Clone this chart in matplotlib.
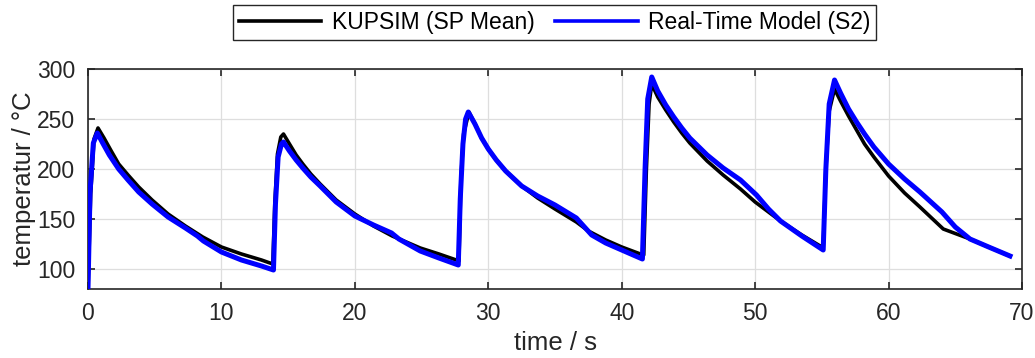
import matplotlib
matplotlib.use("Agg")
import matplotlib.pyplot as plt
from matplotlib.lines import Line2D

# KUPSIM (SP Mean) - black
t_kupsim = [0.0, 0.2, 0.45, 0.75, 1.2, 1.7, 2.3, 3.0, 3.8, 4.8, 6.0, 7.3, 8.6, 10.0, 11.5, 13.0, 13.85,
            14.0, 14.2, 14.45, 14.65, 15.1, 15.6, 16.1, 16.7, 17.4, 18.6, 20.0, 21.4, 22.8, 24.9, 26.3, 27.6, 27.8,
            27.95, 28.15, 28.55, 29.0, 29.5, 30.0, 30.6, 31.3, 32.5, 33.7, 35.0, 36.6, 37.5, 38.8, 40.0, 41.4, 41.65,
            41.85, 42.05, 42.25, 42.7, 43.3, 43.9, 44.5, 45.1, 46.4, 47.6, 48.9, 50.0, 51.9, 53.5, 55.0, 55.1,
            55.3, 55.55, 55.95, 56.4, 57.0, 57.6, 58.2, 58.9, 60.0, 61.2, 62.35, 64.1, 66.1, 67.5, 69.1]
y_kupsim = [80, 175, 230, 241, 231, 219, 205, 194, 182, 169, 155, 143, 132, 122, 115, 109, 105,
            165, 215, 232, 235, 225, 214, 205, 195, 185, 169, 155, 143, 133, 121, 115, 109, 108,
            190, 235, 257, 245, 231, 220, 209, 198, 183, 171, 160, 147, 138, 129, 122, 115, 114,
            200, 265, 285, 272, 259, 247, 236, 226, 208, 194, 180, 167, 148, 134, 122, 121,
            200, 258, 280, 268, 253, 239, 225, 212, 193, 176, 162, 140, 130, 122, 113]

# Real-Time Model (S2) - blue
t_rtm = [0.0, 0.15, 0.4, 0.7, 1.1, 1.6, 2.3, 3.0, 3.8, 4.8, 6.0, 7.3, 8.2, 8.65, 10.0, 11.5, 13.0, 13.9,
         14.05, 14.25, 14.5, 14.65, 15.1, 15.6, 16.1, 16.7, 17.4, 18.6, 20.0, 21.4, 22.75, 23.3, 24.9, 26.3, 27.75,
         27.9, 28.1, 28.3, 28.5, 29.0, 29.5, 30.0, 30.6, 31.3, 32.5, 33.7, 35.0, 36.6, 37.75, 38.8, 40.0, 41.55,
         41.75, 41.95, 42.25, 42.7, 43.3, 43.9, 44.5, 45.1, 46.4, 47.6, 48.9, 50.1, 51.0, 51.9, 53.5, 55.1,
         55.3, 55.55, 55.95, 56.4, 57.0, 57.6, 58.2, 58.9, 60.0, 61.2, 62.35, 64.0, 65.0, 66.1, 67.5, 69.1]
y_rtm = [80, 176, 226, 236, 226, 214, 200, 189, 177, 165, 152, 141, 133, 128, 117, 109, 103, 99,
         165, 212, 225, 227, 218, 209, 201, 192, 183, 167, 153, 144, 136, 130, 118, 111, 104,
         170, 225, 250, 257, 245, 231, 220, 209, 198, 183, 173, 164, 151, 134, 126, 119, 110,
         200, 270, 292, 278, 264, 252, 241, 231, 214, 201, 189, 174, 160, 148, 133, 119,
         200, 265, 289, 276, 260, 247, 235, 222, 205, 190, 177, 157, 142, 130, 122, 113]

x_ticks = [0, 10, 20, 30, 40, 50, 60, 70]
y_ticks = [100, 150, 200, 250, 300]
labels = ["KUPSIM (SP Mean)", "Real-Time Model (S2)"]

plt.rcParams['font.family'] = ['Liberation Sans', 'DejaVu Sans']
fig = plt.figure(figsize=(10.35, 3.58), dpi=100)
ax = fig.add_axes([88/1035, (358-289)/358, (1022-88)/1035, (289-69)/358])

ax.plot(t_kupsim, y_kupsim, color='black', lw=2.6, solid_joinstyle='round', zorder=3)
ax.plot(t_rtm, y_rtm, color='#0000ff', lw=3.6, solid_joinstyle='round', zorder=4)

ax.set_xlim(0, 70)
ax.set_ylim(80, 300)
ax.set_xticks(x_ticks)
ax.set_yticks(y_ticks)
ax.grid(True, color='#dedede', lw=0.9)
ax.set_axisbelow(True)
axc = '#262626'
for s in ax.spines.values():
    s.set_color(axc)
    s.set_linewidth(1.2)
ax.tick_params(direction='in', length=5, width=1.2, colors=axc, labelsize=16.5,
               top=True, right=True, pad=9)
for lab in ax.get_xticklabels() + ax.get_yticklabels():
    lab.set_color('#262626')
ax.set_xlabel('time / s', fontsize=18.5, color='#262626', labelpad=5)
ax.set_ylabel('temperatur / °C', fontsize=18.5, color='#262626', labelpad=1)

handles = [Line2D([], [], color='black', lw=2.6), Line2D([], [], color='#0000ff', lw=2.6)]
leg = fig.legend(handles, labels, loc='center', bbox_to_anchor=(554.5/1035, 1-22.5/358),
                 ncol=2, fontsize=16.5, frameon=True, fancybox=False, edgecolor='#262626',
                 framealpha=1, handlelength=3.6, handletextpad=0.45, columnspacing=0.9,
                 borderpad=0.25, borderaxespad=0)
leg.get_frame().set_linewidth(1.0)

fig.savefig('out.png', dpi=100)
